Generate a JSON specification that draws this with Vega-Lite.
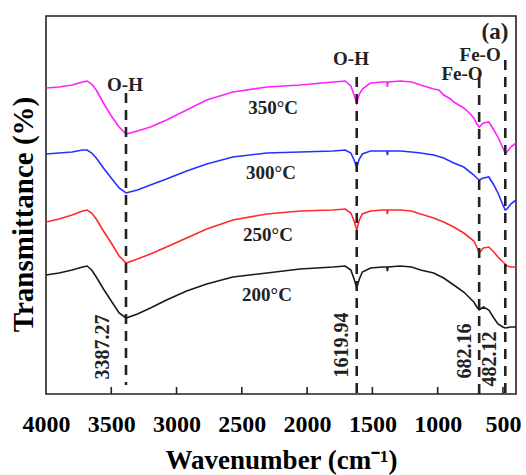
{
  "$schema": "https://vega.github.io/schema/vega-lite/v6.json",
  "width": 470,
  "height": 378,
  "autosize": "none",
  "padding": {"left": 46, "top": 16, "right": 10, "bottom": 81},
  "background": "white",
  "config": {"view": {"stroke": "#222", "strokeWidth": 1.6}, "font": "Liberation Serif"},
  "datasets": {
    "spectra": [
      {"w":4000,"t":306,"s":"350°C"},{"w":3900,"t":307,"s":"350°C"},{"w":3800,"t":309,"s":"350°C"},{"w":3720,"t":312,"s":"350°C"},{"w":3685,"t":313,"s":"350°C"},{"w":3650,"t":310,"s":"350°C"},{"w":3615,"t":304,"s":"350°C"},{"w":3560,"t":291,"s":"350°C"},{"w":3500,"t":278,"s":"350°C"},{"w":3440,"t":267,"s":"350°C"},{"w":3387,"t":260,"s":"350°C"},{"w":3300,"t":263,"s":"350°C"},{"w":3200,"t":267,"s":"350°C"},{"w":3077,"t":274,"s":"350°C"},{"w":2923,"t":284,"s":"350°C"},{"w":2769,"t":294,"s":"350°C"},{"w":2569,"t":302,"s":"350°C"},{"w":2308,"t":307,"s":"350°C"},{"w":2054,"t":309,"s":"350°C"},{"w":1800,"t":312,"s":"350°C"},{"w":1708,"t":313,"s":"350°C"},{"w":1665,"t":308,"s":"350°C"},{"w":1640,"t":299,"s":"350°C"},{"w":1620,"t":291,"s":"350°C"},{"w":1600,"t":300,"s":"350°C"},{"w":1577,"t":305,"s":"350°C"},{"w":1515,"t":311,"s":"350°C"},{"w":1420,"t":312,"s":"350°C"},{"w":1390,"t":312,"s":"350°C"},{"w":1385,"t":307,"s":"350°C"},{"w":1380,"t":312,"s":"350°C"},{"w":1285,"t":313,"s":"350°C"},{"w":1200,"t":312,"s":"350°C"},{"w":1131,"t":309,"s":"350°C"},{"w":1080,"t":307,"s":"350°C"},{"w":1031,"t":305,"s":"350°C"},{"w":990,"t":304,"s":"350°C"},{"w":954,"t":299,"s":"350°C"},{"w":900,"t":295,"s":"350°C"},{"w":877,"t":292,"s":"350°C"},{"w":800,"t":286,"s":"350°C"},{"w":750,"t":280,"s":"350°C"},{"w":723,"t":276,"s":"350°C"},{"w":700,"t":270,"s":"350°C"},{"w":682,"t":267,"s":"350°C"},{"w":650,"t":271,"s":"350°C"},{"w":608,"t":272,"s":"350°C"},{"w":570,"t":264,"s":"350°C"},{"w":538,"t":257,"s":"350°C"},{"w":500,"t":246,"s":"350°C"},{"w":482,"t":241,"s":"350°C"},{"w":469,"t":242,"s":"350°C"},{"w":440,"t":247,"s":"350°C"},{"w":400,"t":251,"s":"350°C"},
      {"w":4000,"t":240,"s":"300°C"},{"w":3900,"t":241,"s":"300°C"},{"w":3800,"t":242,"s":"300°C"},{"w":3720,"t":244,"s":"300°C"},{"w":3685,"t":244,"s":"300°C"},{"w":3650,"t":241,"s":"300°C"},{"w":3615,"t":236,"s":"300°C"},{"w":3560,"t":226,"s":"300°C"},{"w":3500,"t":216,"s":"300°C"},{"w":3440,"t":206,"s":"300°C"},{"w":3387,"t":201,"s":"300°C"},{"w":3300,"t":204,"s":"300°C"},{"w":3200,"t":209,"s":"300°C"},{"w":3077,"t":215,"s":"300°C"},{"w":2923,"t":223,"s":"300°C"},{"w":2769,"t":230,"s":"300°C"},{"w":2569,"t":237,"s":"300°C"},{"w":2308,"t":241,"s":"300°C"},{"w":2054,"t":242,"s":"300°C"},{"w":1800,"t":243,"s":"300°C"},{"w":1708,"t":244,"s":"300°C"},{"w":1665,"t":241,"s":"300°C"},{"w":1640,"t":234,"s":"300°C"},{"w":1620,"t":227,"s":"300°C"},{"w":1600,"t":235,"s":"300°C"},{"w":1577,"t":240,"s":"300°C"},{"w":1515,"t":243,"s":"300°C"},{"w":1420,"t":243,"s":"300°C"},{"w":1390,"t":243,"s":"300°C"},{"w":1385,"t":239,"s":"300°C"},{"w":1380,"t":243,"s":"300°C"},{"w":1285,"t":243,"s":"300°C"},{"w":1200,"t":242,"s":"300°C"},{"w":1131,"t":241,"s":"300°C"},{"w":1031,"t":239,"s":"300°C"},{"w":954,"t":236,"s":"300°C"},{"w":877,"t":231,"s":"300°C"},{"w":800,"t":227,"s":"300°C"},{"w":723,"t":219,"s":"300°C"},{"w":700,"t":216,"s":"300°C"},{"w":682,"t":214,"s":"300°C"},{"w":650,"t":216,"s":"300°C"},{"w":608,"t":217,"s":"300°C"},{"w":570,"t":209,"s":"300°C"},{"w":538,"t":201,"s":"300°C"},{"w":500,"t":189,"s":"300°C"},{"w":482,"t":184,"s":"300°C"},{"w":469,"t":185,"s":"300°C"},{"w":440,"t":190,"s":"300°C"},{"w":400,"t":194,"s":"300°C"},
      {"w":4000,"t":172,"s":"250°C"},{"w":3900,"t":175,"s":"250°C"},{"w":3800,"t":179,"s":"250°C"},{"w":3720,"t":183,"s":"250°C"},{"w":3685,"t":184,"s":"250°C"},{"w":3650,"t":181,"s":"250°C"},{"w":3615,"t":175,"s":"250°C"},{"w":3560,"t":163,"s":"250°C"},{"w":3500,"t":151,"s":"250°C"},{"w":3440,"t":138,"s":"250°C"},{"w":3387,"t":131,"s":"250°C"},{"w":3300,"t":135,"s":"250°C"},{"w":3200,"t":140,"s":"250°C"},{"w":3077,"t":147,"s":"250°C"},{"w":2923,"t":156,"s":"250°C"},{"w":2769,"t":165,"s":"250°C"},{"w":2569,"t":174,"s":"250°C"},{"w":2308,"t":180,"s":"250°C"},{"w":2054,"t":183,"s":"250°C"},{"w":1800,"t":184,"s":"250°C"},{"w":1708,"t":185,"s":"250°C"},{"w":1665,"t":181,"s":"250°C"},{"w":1640,"t":173,"s":"250°C"},{"w":1620,"t":164,"s":"250°C"},{"w":1600,"t":174,"s":"250°C"},{"w":1577,"t":180,"s":"250°C"},{"w":1515,"t":183,"s":"250°C"},{"w":1420,"t":184,"s":"250°C"},{"w":1390,"t":184,"s":"250°C"},{"w":1385,"t":180,"s":"250°C"},{"w":1380,"t":184,"s":"250°C"},{"w":1285,"t":184,"s":"250°C"},{"w":1200,"t":183,"s":"250°C"},{"w":1131,"t":180,"s":"250°C"},{"w":1031,"t":176,"s":"250°C"},{"w":954,"t":172,"s":"250°C"},{"w":877,"t":167,"s":"250°C"},{"w":800,"t":161,"s":"250°C"},{"w":723,"t":153,"s":"250°C"},{"w":700,"t":147,"s":"250°C"},{"w":682,"t":141,"s":"250°C"},{"w":650,"t":146,"s":"250°C"},{"w":608,"t":147,"s":"250°C"},{"w":570,"t":142,"s":"250°C"},{"w":538,"t":137,"s":"250°C"},{"w":500,"t":132,"s":"250°C"},{"w":482,"t":130,"s":"250°C"},{"w":469,"t":128,"s":"250°C"},{"w":440,"t":127,"s":"250°C"},{"w":400,"t":127,"s":"250°C"},
      {"w":4000,"t":119,"s":"200°C"},{"w":3900,"t":121,"s":"200°C"},{"w":3800,"t":124,"s":"200°C"},{"w":3720,"t":127,"s":"200°C"},{"w":3685,"t":128,"s":"200°C"},{"w":3650,"t":124,"s":"200°C"},{"w":3615,"t":117,"s":"200°C"},{"w":3560,"t":105,"s":"200°C"},{"w":3500,"t":93,"s":"200°C"},{"w":3440,"t":81,"s":"200°C"},{"w":3387,"t":76,"s":"200°C"},{"w":3300,"t":80,"s":"200°C"},{"w":3200,"t":86,"s":"200°C"},{"w":3077,"t":94,"s":"200°C"},{"w":2923,"t":103,"s":"200°C"},{"w":2769,"t":110,"s":"200°C"},{"w":2569,"t":117,"s":"200°C"},{"w":2308,"t":121,"s":"200°C"},{"w":2054,"t":125,"s":"200°C"},{"w":1800,"t":127,"s":"200°C"},{"w":1708,"t":128,"s":"200°C"},{"w":1665,"t":124,"s":"200°C"},{"w":1640,"t":115,"s":"200°C"},{"w":1620,"t":106,"s":"200°C"},{"w":1600,"t":115,"s":"200°C"},{"w":1577,"t":122,"s":"200°C"},{"w":1515,"t":126,"s":"200°C"},{"w":1420,"t":127,"s":"200°C"},{"w":1390,"t":127,"s":"200°C"},{"w":1385,"t":123,"s":"200°C"},{"w":1380,"t":127,"s":"200°C"},{"w":1285,"t":128,"s":"200°C"},{"w":1200,"t":127,"s":"200°C"},{"w":1131,"t":124,"s":"200°C"},{"w":1031,"t":121,"s":"200°C"},{"w":954,"t":116,"s":"200°C"},{"w":877,"t":109,"s":"200°C"},{"w":800,"t":102,"s":"200°C"},{"w":723,"t":92,"s":"200°C"},{"w":700,"t":87,"s":"200°C"},{"w":682,"t":84,"s":"200°C"},{"w":650,"t":87,"s":"200°C"},{"w":608,"t":84,"s":"200°C"},{"w":570,"t":76,"s":"200°C"},{"w":538,"t":70,"s":"200°C"},{"w":500,"t":67,"s":"200°C"},{"w":482,"t":66,"s":"200°C"},{"w":440,"t":67,"s":"200°C"},{"w":400,"t":67,"s":"200°C"}
    ],
    "peaks": [
      {"w":3387.27,"t":301,"t2":9},
      {"w":1619.94,"t":317,"t2":0},
      {"w":682.16,"t":316,"t2":0},
      {"w":482.12,"t":334,"t2":0}
    ],
    "ticks": [
      {"w":3500,"t":0,"t2":7},{"w":3000,"t":0,"t2":7},{"w":2500,"t":0,"t2":7},{"w":2000,"t":0,"t2":7},
      {"w":1500,"t":0,"t2":7},{"w":1000,"t":0,"t2":7},{"w":500,"t":0,"t2":7}
    ],
    "labels": [
      {"w":3395,"t":309,"label":"O-H"},
      {"w":1664,"t":335,"label":"O-H"},
      {"w":813,"t":320,"label":"Fe-O"},
      {"w":675,"t":339,"label":"Fe-O"},
      {"w":2261,"t":286,"label":"350°C"},
      {"w":2277,"t":221,"label":"300°C"},
      {"w":2300,"t":159,"label":"250°C"},
      {"w":2307,"t":99,"label":"200°C"}
    ],
    "panel": [
      {"w":561,"t":362,"label":"(a)"}
    ],
    "values": [
      {"w":3563,"t":47,"label":"3387.27"},
      {"w":1733,"t":49,"label":"1619.94"},
      {"w":790,"t":43,"label":"682.16"},
      {"w":599,"t":35,"label":"482.12"}
    ]
  },
  "layer": [
    {
      "data": {"name": "spectra"},
      "mark": {"type": "line", "strokeWidth": 1.6},
      "encoding": {
        "x": {
          "field": "w", "type": "quantitative",
          "scale": {"domain": [400, 4000], "reverse": true, "nice": false, "zero": false},
          "axis": {
            "values": [4000, 3500, 3000, 2500, 2000, 1500, 1000, 500],
            "format": "d",
            "title": "Wavenumber (cm⁻¹)",
            "grid": false, "domain": false, "ticks": false,
            "labelFont": "Liberation Serif", "labelFontWeight": "bold", "labelFontSize": 24, "labelColor": "#000",
            "labelPadding": 18, "labelOverlap": false, "labelFlush": false, "labelBound": false,
            "titleFont": "Liberation Serif", "titleFontWeight": "bold", "titleFontSize": 27, "titleColor": "#000",
            "titleY": 66, "titleBaseline": "middle"
          }
        },
        "y": {
          "field": "t", "type": "quantitative",
          "scale": {"domain": [0, 378], "nice": false, "zero": false},
          "axis": {
            "labels": false, "ticks": false, "domain": false, "grid": false,
            "title": "Transmittance (%)",
            "titleFont": "Liberation Serif", "titleFontWeight": "bold", "titleFontSize": 29, "titleColor": "#000",
            "titleX": -23, "titleY": 198, "titleAngle": 270, "titleAlign": "center", "titleBaseline": "middle"
          }
        },
        "color": {
          "field": "s", "type": "nominal",
          "scale": {"domain": ["350°C", "300°C", "250°C", "200°C"], "range": ["#ff22ff", "#2233ff", "#ff2a2a", "#1a1a1a"]},
          "legend": null
        }
      }
    },
    {
      "data": {"name": "ticks"},
      "mark": {"type": "rule", "strokeWidth": 1.6, "color": "#222"},
      "encoding": {
        "x": {"field": "w", "type": "quantitative"},
        "y": {"field": "t", "type": "quantitative"},
        "y2": {"field": "t2"}
      }
    },
    {
      "data": {"name": "peaks"},
      "mark": {"type": "rule", "strokeDash": [10, 7], "strokeWidth": 2.6, "color": "#222"},
      "encoding": {
        "x": {"field": "w", "type": "quantitative"},
        "y": {"field": "t", "type": "quantitative"},
        "y2": {"field": "t2"}
      }
    },
    {
      "data": {"name": "labels"},
      "mark": {"type": "text", "font": "Liberation Serif", "fontWeight": "bold", "fontSize": 19, "color": "#222", "align": "center", "baseline": "middle"},
      "encoding": {
        "x": {"field": "w", "type": "quantitative"},
        "y": {"field": "t", "type": "quantitative"},
        "text": {"field": "label"}
      }
    },
    {
      "data": {"name": "panel"},
      "mark": {"type": "text", "font": "Liberation Serif", "fontWeight": "bold", "fontSize": 23, "color": "#222", "align": "center", "baseline": "middle"},
      "encoding": {
        "x": {"field": "w", "type": "quantitative"},
        "y": {"field": "t", "type": "quantitative"},
        "text": {"field": "label"}
      }
    },
    {
      "data": {"name": "values"},
      "mark": {"type": "text", "font": "Liberation Serif", "fontWeight": "bold", "fontSize": 20, "angle": 270, "color": "#222", "align": "center", "baseline": "middle"},
      "encoding": {
        "x": {"field": "w", "type": "quantitative"},
        "y": {"field": "t", "type": "quantitative"},
        "text": {"field": "label"}
      }
    }
  ]
}
